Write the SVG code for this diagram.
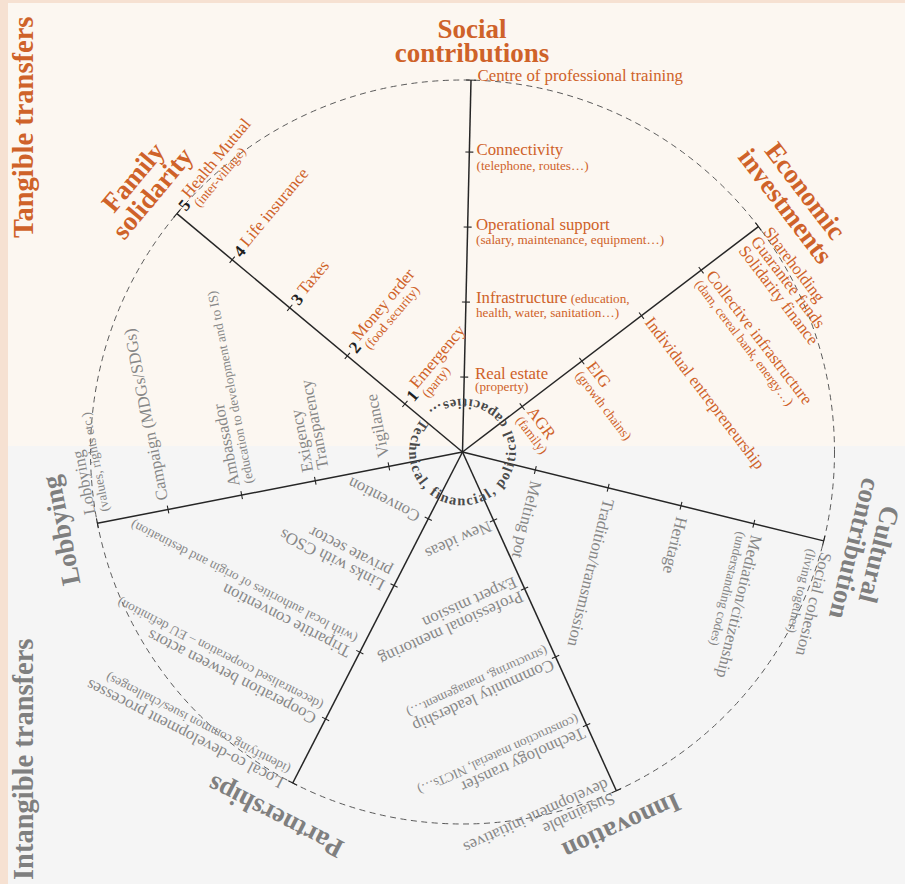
<svg xmlns="http://www.w3.org/2000/svg" width="905" height="884" viewBox="0 0 905 884">
<style>
text{font-family:"Liberation Serif","Times New Roman",serif}
.o{fill:#cf6229}
.g{fill:#878787}
.m{font-size:16.8px}
.s{font-size:13.2px}
.n{font-size:17px;font-weight:bold;fill:#1f1f1f}
.t{font-size:27px;font-weight:bold;text-anchor:middle}
.to{fill:#cf6229}
.tg{fill:#7f7f7f}
.side{font-size:28.5px;font-weight:bold}
.spoke{stroke:#262626;stroke-width:1.5;fill:none}
.tick{stroke:#262626;stroke-width:1.1;fill:none}
.circle{fill:none;stroke:#5a5a5a;stroke-width:1;stroke-dasharray:6 4.5}
.core{font-size:14.5px;font-weight:bold;fill:#4a4a4a;letter-spacing:1.6px}
</style>
<defs>
<g id="spoke">
<line class="spoke" x1="0" y1="0" x2="372" y2="0"/>
<path class="tick" d="M75,-4V4M150,-4V4M225,-4V4M300,-4V4M372,-5V5"/>
</g>
<path id="core-path" d="M421.31,418.65 A53,53 0 1,0 503.69,485.35 A53,53 0 1,0 421.31,418.65"/>
</defs>

<!-- background bands -->
<rect width="905" height="884" fill="#f6e1d2"/>
<rect x="8" y="3" width="897" height="443" fill="#fcf7f1"/>
<rect x="8" y="446" width="897" height="438" fill="#f5f5f5"/>

<g id="side-labels">
<text class="side to" transform="translate(33,238) rotate(-90)">Tangible transfers</text>
<text class="side tg" transform="translate(33,880) rotate(-90)">Intangible transfers</text>
</g>

<!-- dashed outer circle and the seven spokes -->
<g id="connectors">
<circle class="circle" cx="462.5" cy="452" r="372"/>
<use href="#spoke" transform="translate(462.5,452) rotate(-88.69)"/>
<use href="#spoke" transform="translate(462.5,452) rotate(-140.15)"/>
<use href="#spoke" transform="translate(462.5,452) rotate(-37.3)"/>
<use href="#spoke" transform="translate(462.5,452) rotate(168.95)"/>
<use href="#spoke" transform="translate(462.5,452) rotate(117.15)"/>
<use href="#spoke" transform="translate(462.5,452) rotate(65.57)"/>
<use href="#spoke" transform="translate(462.5,452) rotate(13.82)"/>
</g>

<!-- centre ring -->
<g id="core">
<text class="core"><textPath href="#core-path">Technical, financial, political capacities…</textPath></text>
</g>

<!-- Social contributions -->
<g id="social">
<text class="t to"><tspan x="472" y="38">Social</tspan><tspan x="472" y="62">contributions</tspan></text>
<g id="social-5"><text class="o m" x="477.5" y="81">Centre of professional training</text></g>
<g id="social-4"><text class="o m"><tspan x="476.5" y="154.5">Connectivity</tspan><tspan class="s" x="476.5" y="169.5">(telephone, routes…)</tspan></text></g>
<g id="social-3"><text class="o m"><tspan x="476" y="229.5">Operational support</tspan><tspan class="s" x="476" y="243.5">(salary, maintenance, equipment…)</tspan></text></g>
<g id="social-2"><text class="o m"><tspan x="476" y="303">Infrastructure</tspan><tspan class="s"> (education,</tspan><tspan class="s" x="476" y="316.5">health, water, sanitation…)</tspan></text></g>
<g id="social-1"><text class="o m"><tspan x="475" y="378.5">Real estate</tspan><tspan class="s" x="475" y="391">(property)</tspan></text></g>
</g>

<!-- Family solidarity -->
<g id="family" transform="translate(462.5,452) rotate(-140.15)">
<g id="family-title" transform="translate(417,0) rotate(90)"><text class="t to"><tspan x="0" y="-3">Family</tspan><tspan x="0" y="22">solidarity</tspan></text></g>
<g id="family-1" transform="translate(75,0) rotate(90)"><text class="n" x="7" y="6">1</text><text class="o m"><tspan x="19" y="0">Emergency</tspan><tspan class="s" x="19" y="14">(party)</tspan></text></g>
<g id="family-2" transform="translate(150,0) rotate(90)"><text class="n" x="7" y="6">2</text><text class="o m"><tspan x="19" y="0">Money order</tspan><tspan class="s" x="19" y="14">(food security)</tspan></text></g>
<g id="family-3" transform="translate(225,0) rotate(90)"><text class="n" x="7" y="6">3</text><text class="o m" x="19" y="4">Taxes</text></g>
<g id="family-4" transform="translate(300,0) rotate(90)"><text class="n" x="7" y="6">4</text><text class="o m" x="19" y="4">Life insurance</text></g>
<g id="family-5" transform="translate(372,0) rotate(90)"><text class="n" x="7" y="6">5</text><text class="o m"><tspan x="19" y="0">Health Mutual</tspan><tspan class="s" x="19" y="14">(inter-village)</tspan></text></g>
</g>

<!-- Economic investments -->
<g id="economic" transform="translate(462.5,452) rotate(-37.3)">
<g id="economic-title" transform="translate(419,0) rotate(90)"><text class="t to"><tspan x="0" y="-3">Economic</tspan><tspan x="0" y="22">investments</tspan></text></g>
<g id="economic-1" transform="translate(75,0) rotate(90)"><text class="o m"><tspan x="7" y="0">AGR</tspan><tspan class="s" x="7" y="14">(family)</tspan></text></g>
<g id="economic-2" transform="translate(150,0) rotate(90)"><text class="o m"><tspan x="7" y="0">EIG</tspan><tspan class="s" x="7" y="14">(growth chains)</tspan></text></g>
<g id="economic-3" transform="translate(225,0) rotate(90)"><text class="o m" x="7" y="2">Individual entrepreneurship</text></g>
<g id="economic-4" transform="translate(300,0) rotate(90)"><text class="o m"><tspan x="7" y="0">Collective infrastructure</tspan><tspan class="s" x="7" y="14">(dam, cereal bank, energy…)</tspan></text></g>
<g id="economic-5" transform="translate(372,0) rotate(90)"><text class="o m"><tspan x="7" y="0">Shareholding</tspan><tspan x="7" y="15.5">Guarantee funds</tspan><tspan x="7" y="31">Solidarity finance</tspan></text></g>
</g>

<!-- Lobbying -->
<g id="lobbying" transform="translate(462.5,452) rotate(168.95)">
<g id="lobbying-title" transform="translate(409,0) rotate(90)"><text class="t tg" x="0" y="9">Lobbying</text></g>
<g id="lobbying-1" transform="translate(75,0) rotate(90)"><text class="g m" x="10" y="2">Vigilance</text></g>
<g id="lobbying-2" transform="translate(150,0) rotate(90)"><text class="g m"><tspan x="10" y="0">Exigency</tspan><tspan x="10" y="15.5">Transparency</tspan></text></g>
<g id="lobbying-3" transform="translate(225,0) rotate(90)"><text class="g m"><tspan x="10" y="0">Ambassador</tspan><tspan class="s" x="10" y="14">(education to development and to IS)</tspan></text></g>
<g id="lobbying-4" transform="translate(300,0) rotate(90)"><text class="g m" x="10" y="2">Campaign (MDGs/SDGs)</text></g>
<g id="lobbying-5" transform="translate(372,0) rotate(90)"><text class="g m"><tspan x="10" y="0">Lobbying</tspan><tspan class="s" x="10" y="14">(values, rights etc.)</tspan></text></g>
</g>

<!-- Partnerships -->
<g id="partnerships" transform="translate(462.5,452) rotate(117.15)">
<g id="partnerships-title" transform="translate(410,0) rotate(90)"><text class="t tg" x="0" y="9">Partnerships</text></g>
<g id="partnerships-1" transform="translate(75,0) rotate(90)"><text class="g m" x="9" y="2">Convention</text></g>
<g id="partnerships-2" transform="translate(150,0) rotate(90)"><text class="g m"><tspan x="9" y="0">Links with CSOs</tspan><tspan x="9" y="15.5">private sector</tspan></text></g>
<g id="partnerships-3" transform="translate(225,0) rotate(90)"><text class="g m"><tspan x="9" y="0">Tripartite convention</tspan><tspan class="s" x="9" y="14">(with local authorities of origin and destination)</tspan></text></g>
<g id="partnerships-4" transform="translate(300,0) rotate(90)"><text class="g m"><tspan x="9" y="0">Cooperation between actors</tspan><tspan class="s" x="9" y="14">(decentralised cooperation – EU definition)</tspan></text></g>
<g id="partnerships-5" transform="translate(372,0) rotate(90)"><text class="g m"><tspan x="9" y="0">Local co-development processes</tspan><tspan class="s" x="9" y="14">(identifying common isues/challenges)</tspan></text></g>
</g>

<!-- Innovation -->
<g id="innovation" transform="translate(462.5,452) rotate(65.57)">
<g id="innovation-title" transform="translate(407,0) rotate(90)"><text class="t tg" x="10" y="9">Innovation</text></g>
<g id="innovation-1" transform="translate(75,0) rotate(90)"><text class="g m" x="5" y="2">New ideas</text></g>
<g id="innovation-2" transform="translate(150,0) rotate(90)"><text class="g m"><tspan x="5" y="0">Professional mentoring</tspan><tspan x="5" y="15.5">Expert mission</tspan></text></g>
<g id="innovation-3" transform="translate(225,0) rotate(90)"><text class="g m"><tspan x="5" y="0">Community leadership</tspan><tspan class="s" x="5" y="14">(structuring, management…)</tspan></text></g>
<g id="innovation-4" transform="translate(300,0) rotate(90)"><text class="g m"><tspan x="5" y="0">Technology transfer</tspan><tspan class="s" x="5" y="14">(construction material, NICTs…)</tspan></text></g>
<g id="innovation-5" transform="translate(372,0) rotate(90)"><text class="g m"><tspan x="5" y="0">Sustainable</tspan><tspan x="5" y="15.5">development initiatives</tspan></text></g>
</g>

<!-- Cultural contribution -->
<g id="cultural" transform="translate(462.5,452) rotate(13.82)">
<g id="cultural-title" transform="translate(417,0) rotate(90)"><text class="t tg"><tspan x="0" y="-3">Cultural</tspan><tspan x="0" y="22">contribution</tspan></text></g>
<g id="cultural-1" transform="translate(75,0) rotate(90)"><text class="g m" x="11" y="2">Melting pot</text></g>
<g id="cultural-2" transform="translate(150,0) rotate(90)"><text class="g m" x="11" y="2">Tradition/transmission</text></g>
<g id="cultural-3" transform="translate(225,0) rotate(90)"><text class="g m" x="11" y="2">Heritage</text></g>
<g id="cultural-4" transform="translate(300,0) rotate(90)"><text class="g m"><tspan x="11" y="0">Mediation/citizenship</tspan><tspan class="s" x="11" y="14">(understanding codes)</tspan></text></g>
<g id="cultural-5" transform="translate(372,0) rotate(90)"><text class="g m"><tspan x="11" y="0">Social cohesion</tspan><tspan class="s" x="11" y="14">(living together)</tspan></text></g>
</g>
</svg>
